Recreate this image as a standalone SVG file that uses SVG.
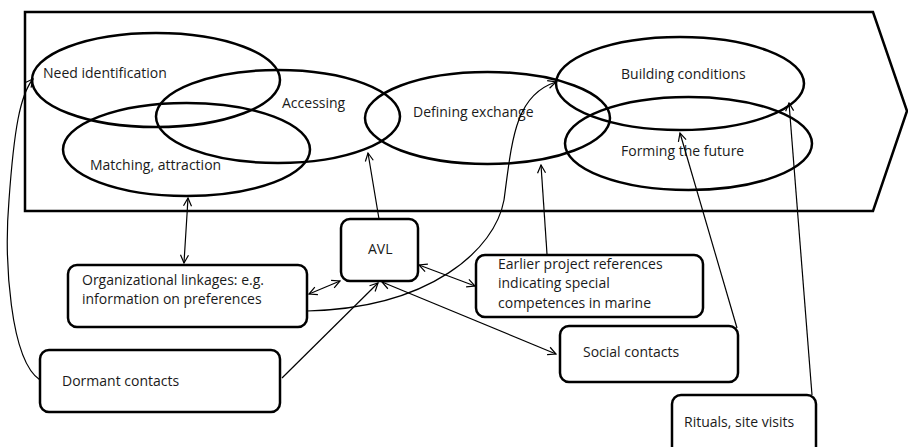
<svg xmlns="http://www.w3.org/2000/svg" width="908" height="447" viewBox="0 0 908 447">
<defs>
<marker id="ah" viewBox="0 0 10 10" refX="9" refY="5" markerWidth="10" markerHeight="10" markerUnits="userSpaceOnUse" orient="auto-start-reverse">
<path d="M1,1 L9,5 L1,9" fill="none" stroke="#000" stroke-width="1.2"/>
</marker>
<style>
.frame{fill:none;stroke:#000;stroke-width:2.5}
.ell{fill:none;stroke:#000;stroke-width:2.5}
.box{fill:#fff;stroke:#000;stroke-width:2.5}
.con{fill:none;stroke:#000;stroke-width:1.2}
text{font-family:"Open Sans","Liberation Sans",sans-serif;font-size:14px;fill:#1a1a1a}
</style>
</defs>
<rect width="908" height="447" fill="#fff"/>
<g id="process-frame">
<path class="frame" d="M25,12 L873,12 L907,111 L873,211 L25,211 Z"/>
</g>
<g id="phases">
<g id="need-identification"><ellipse class="ell" cx="156" cy="80" rx="124" ry="47"/><text x="43" y="78">Need identification</text></g>
<g id="matching"><ellipse class="ell" cx="186.5" cy="149.5" rx="123.5" ry="46.5"/><text x="90" y="170">Matching, attraction</text></g>
<g id="accessing"><ellipse class="ell" cx="278" cy="116.5" rx="122" ry="46.5"/><text x="282" y="108">Accessing</text></g>
<g id="defining-exchange"><ellipse class="ell" cx="487.5" cy="118" rx="122.5" ry="46"/><text x="413" y="117">Defining exchange</text></g>
<g id="building-conditions"><ellipse class="ell" cx="680" cy="83.5" rx="124" ry="46.5"/><text x="621" y="79">Building conditions</text></g>
<g id="forming-future"><ellipse class="ell" cx="688.5" cy="143.5" rx="123.5" ry="46.5"/><text x="621" y="156">Forming the future</text></g>
</g>
<g id="connectors">
<line class="con" x1="184" y1="263" x2="188" y2="198" marker-start="url(#ah)" marker-end="url(#ah)"/>
<line class="con" x1="379" y1="219" x2="368" y2="153" marker-end="url(#ah)"/>
<line class="con" x1="547" y1="254" x2="541" y2="165" marker-end="url(#ah)"/>
<path class="con" d="M307,311 C430,308 495,250 504,200 C512,140 515,95 556,82" marker-end="url(#ah)"/>
<line class="con" x1="309" y1="294" x2="340" y2="281" marker-start="url(#ah)" marker-end="url(#ah)"/>
<line class="con" x1="282" y1="378" x2="378" y2="283" marker-end="url(#ah)"/>
<line class="con" x1="419" y1="265" x2="475" y2="286" marker-start="url(#ah)" marker-end="url(#ah)"/>
<line class="con" x1="382" y1="282" x2="556" y2="354" marker-start="url(#ah)" marker-end="url(#ah)"/>
<line class="con" x1="737" y1="328" x2="680" y2="133" marker-end="url(#ah)"/>
<line class="con" x1="812" y1="395" x2="789" y2="103" marker-end="url(#ah)"/>
<path class="con" d="M40,380 C10,360 4,260 9,200 C14,130 20,95 33,79" marker-end="url(#ah)"/>
</g>
<g id="org-linkages"><rect class="box" x="68" y="265" width="239" height="62" rx="9"/><text x="82" y="285">Organizational linkages: e.g.</text><text x="82" y="304">information on preferences</text></g>
<g id="dormant-contacts"><rect class="box" x="40" y="350" width="240" height="62" rx="9"/><text x="62" y="386">Dormant contacts</text></g>
<g id="avl"><rect class="box" x="341" y="219" width="77" height="62" rx="9"/><text x="368" y="254">AVL</text></g>
<g id="earlier-projects"><rect class="box" x="476" y="255" width="227" height="62" rx="9"/><text x="498" y="269">Earlier project references</text><text x="498" y="288">indicating special</text><text x="498" y="308">competences in marine</text></g>
<g id="social-contacts"><rect class="box" x="560" y="326" width="178" height="56" rx="9"/><text x="583" y="357">Social contacts</text></g>
<g id="rituals"><rect class="box" x="672" y="395" width="144" height="62" rx="9"/><text x="684" y="427">Rituals, site visits</text></g>
</svg>
